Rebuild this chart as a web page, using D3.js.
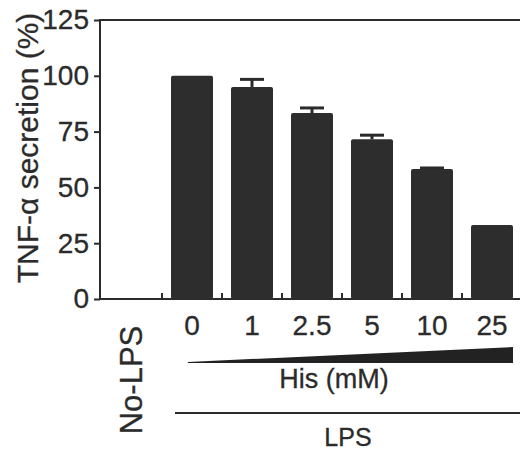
<!DOCTYPE html>
<html>
<head>
<meta charset="utf-8">
<script src="https://cdn.jsdelivr.net/npm/d3@7"></script>
<style>
  body { margin: 0; background: #fff; }
  text { font-family: "Liberation Sans", Arial, sans-serif; fill: #2b2b2b; stroke: #2b2b2b; stroke-width: 0.3; }
</style>
</head>
<body>
<div id="chart"></div>
<script>
// data
const categories = ["No-LPS", "0", "1", "2.5", "5", "10", "25"];
const values = [0, 100, 95, 83.3, 71.6, 58.2, 33.2];
const errors = [0, 0, 3.4, 2.3, 1.8, 0.5, 0];
const yTicks = [0, 25, 50, 75, 100, 125];

const width = 520;
const height = 452;
const ink = "#2b2b2b";

const svg = d3.select("#chart")
    .append("svg")
    .attr("width", width)
    .attr("height", height);

const x = d3.scaleBand()
    .domain(categories)
    .range([102, 522])
    .paddingInner(0.3)
    .paddingOuter(0.15);

const y = d3.scaleLinear()
    .domain([0, 125])
    .range([299, 20]);

const bw = x.bandwidth();
const step = x.step();

// frame: top, left, bottom
svg.append("path")
    .attr("d", `M${width},${y(125)}H100V${y(0)}H${width}`)
    .attr("fill", "none")
    .attr("stroke", ink)
    .attr("stroke-width", 2);

// y axis
const yAxis = svg.append("g")
    .attr("transform", "translate(100,0)")
    .call(d3.axisLeft(y).tickValues(yTicks).tickSize(6).tickPadding(5));

yAxis.select(".domain").remove();
yAxis.selectAll(".tick line").attr("stroke", ink).attr("stroke-width", 2);
yAxis.selectAll(".tick text")
    .attr("font-size", 28)
    .attr("font-family", "Liberation Sans, Arial, sans-serif")
    .attr("fill", ink);

// small inward ticks between the bars
svg.append("g")
    .selectAll("line")
    .data(categories.slice(0, -1))
    .enter()
    .append("line")
    .attr("x1", d => x(d) + bw + step * 0.15)
    .attr("x2", d => x(d) + bw + step * 0.15)
    .attr("y1", y(0))
    .attr("y2", y(0) - 6)
    .attr("stroke", ink)
    .attr("stroke-width", 2);

// bars
svg.append("g")
    .selectAll("rect")
    .data(categories)
    .enter()
    .append("rect")
    .attr("x", d => x(d))
    .attr("width", bw)
    .attr("y", (d, i) => y(values[i]))
    .attr("height", (d, i) => y(0) - y(values[i]))
    .attr("rx", 2)
    .attr("fill", "#2d2d2d");

// error bars (upper half only)
const eb = svg.append("g")
    .attr("stroke", ink)
    .attr("stroke-width", 3);

categories.forEach((c, i) => {
    if (errors[i] <= 0) return;
    const cx = x(c) + bw / 2;
    eb.append("line")
        .attr("x1", cx).attr("x2", cx)
        .attr("y1", y(values[i])).attr("y2", y(values[i] + errors[i]));
    eb.append("line")
        .attr("x1", cx - 12).attr("x2", cx + 12)
        .attr("y1", y(values[i] + errors[i])).attr("y2", y(values[i] + errors[i]));
});

// x category labels
svg.append("g")
    .selectAll("text")
    .data(categories.slice(1))
    .enter()
    .append("text")
    .attr("x", d => x(d) + bw / 2)
    .attr("y", 335)
    .attr("text-anchor", "middle")
    .attr("font-size", 28)
    .text(d => d);

svg.append("text")
    .attr("transform", `translate(${x("No-LPS") + bw / 2 + 10},380) rotate(-90)`)
    .attr("text-anchor", "middle")
    .attr("font-size", 31)
    .text("No-LPS");

// concentration wedge
const wx0 = x("0") + bw * 0.4;
const wx1 = x("25") + bw;
svg.append("path")
    .attr("d", `M${wx0},362L${wx1},347L${wx1},363L${wx0},363Z`)
    .attr("fill", "#222");

svg.append("text")
    .attr("x", 334)
    .attr("y", 388)
    .attr("text-anchor", "middle")
    .attr("font-size", 27)
    .text("His (mM)");

svg.append("line")
    .attr("x1", x("0") + 4)
    .attr("x2", width)
    .attr("y1", 413)
    .attr("y2", 413)
    .attr("stroke", ink)
    .attr("stroke-width", 2);

svg.append("text")
    .attr("x", 348)
    .attr("y", 446)
    .attr("text-anchor", "middle")
    .attr("font-size", 25)
    .text("LPS");

// y axis title
svg.append("text")
    .attr("transform", "translate(38,148) rotate(-90)")
    .attr("text-anchor", "middle")
    .attr("font-size", 30)
    .text("TNF-α secretion (%)");
</script>
</body>
</html>
